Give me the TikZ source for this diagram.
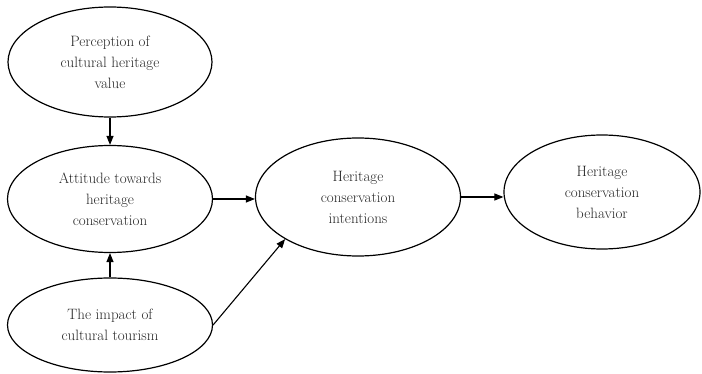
\documentclass[tikz,border=0pt]{standalone}
\usepackage{tikz}
\usetikzlibrary{shapes.geometric,arrows.meta}
\tikzset{
	every construct/.style={
		ellipse,
		draw,
		line width=1.2pt,
		inner sep=0pt,
		align=center,
		text=black!85,
		font=\fontsize{15}{21}\selectfont
	},
	construct link/.style={
		->,
		line width=1.1pt
	},
}

\begin{document}
\begin{tikzpicture}[x=1pt, y=-1pt, >={Triangle[length=9pt,width=7pt]}]

\useasboundingbox (0,0) rectangle (702,374);

\node [every construct, minimum width=204pt, minimum height=110pt] (perception) at (110,62)
	{Perception of\\cultural heritage\\value};
\node [every construct, minimum width=205pt, minimum height=107pt] (attitude) at (110,199)
	{Attitude towards\\heritage\\conservation};
\node [every construct, minimum width=205pt, minimum height=94pt] (impact) at (110,325)
	{The impact of\\cultural tourism};
\node [every construct, minimum width=205pt, minimum height=118pt] (intentions) at (358,197)
	{Heritage\\conservation\\intentions};
\node [every construct, minimum width=196pt, minimum height=114pt] (behavior) at (602,192)
	{Heritage\\conservation\\behavior};

\draw [construct link] (perception) -- (attitude);
\draw [construct link] (impact) -- (attitude);
\draw [construct link] (attitude.east) -- (attitude.east -| intentions.west);
\draw [construct link] (intentions.east) -- (intentions.east -| behavior.west);
\draw [construct link] (impact.east) -- (intentions.south west);

\end{tikzpicture}
\end{document}
